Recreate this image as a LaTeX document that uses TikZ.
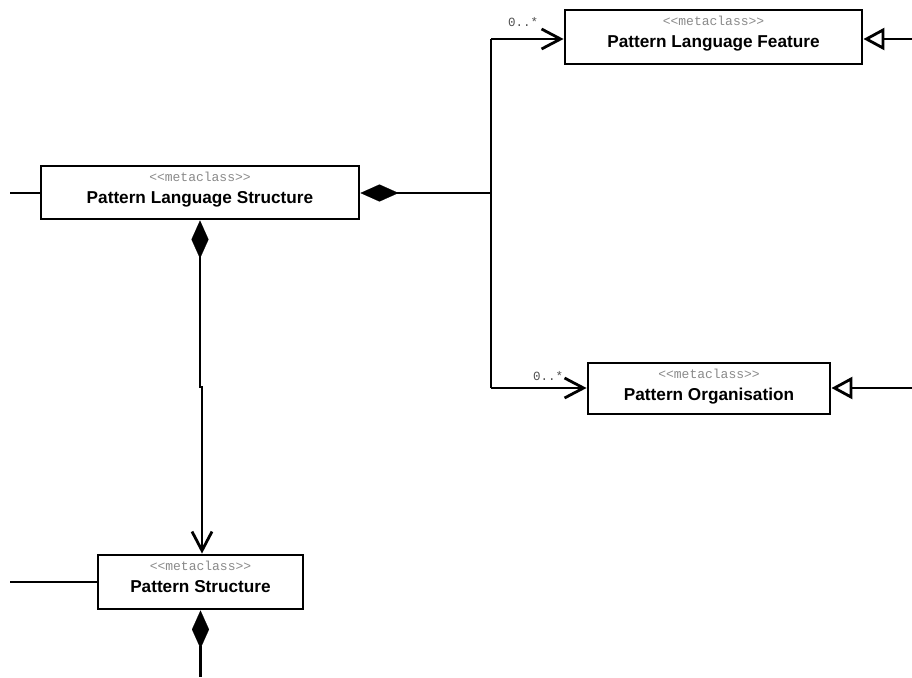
\documentclass[tikz,border=0pt]{standalone}
\usepackage{fontspec}
\setmainfont{Liberation Sans}
\newfontfamily\monofam{Liberation Mono}
\usetikzlibrary{arrows.meta}
\definecolor{stereo}{HTML}{8A8A8A}
\definecolor{mult}{HTML}{505050}
\tikzset{
  x=1pt, y=-1pt,
  umlclass/.style={draw=black, line width=2.9pt, fill=white, inner sep=0pt},
  conn/.style={line width=2.8pt, line join=miter},
  comp/.style={{Diamond[length=38pt,width=17pt,line width=0.1pt]}-},
  navarrow/.style={-{Straight Barb[length=19pt,width=20pt,line width=2.8pt]}},
  compnav/.style={{Diamond[length=38pt,width=17pt,line width=0.1pt]}-{Straight Barb[length=19pt,width=20pt,line width=2.8pt]}},
  genarrow/.style={-{Triangle[open,length=21pt,width=22pt,line width=2.8pt,fill=white]}},
  stereotype/.style={anchor=base, inner sep=0pt, font=\monofam\fontsize{13}{13}\selectfont, text=stereo},
  classname/.style={anchor=base, inner sep=0pt, font=\bfseries\fontsize{17.2}{17.2}\selectfont},
  multlabel/.style={anchor=base, inner sep=0pt, font=\monofam\fontsize{12.5}{12.5}\selectfont, text=mult}
}
\newcommand{\umlbox}[5]{%
  % #1 name, #2 left, #3 top, #4 right, #5 bottom
  \node[umlclass, minimum width={#4-#2}, minimum height={#5-#3}] (#1) at ({(#2+#4)/2},{(#3+#5)/2}) {};
}
\begin{document}
\begin{tikzpicture}
\useasboundingbox (0,0) rectangle (912,677);

% classes
\umlbox{plf}{565}{10}{862}{64}
\umlbox{pls}{41}{166}{359}{219}
\umlbox{po}{588}{363}{830}{414}
\umlbox{ps}{98}{555}{303}{609}

\foreach \n/\t in {plf/Pattern Language Feature, pls/Pattern Language Structure,
                   po/Pattern Organisation, ps/Pattern Structure}{
  \node[stereotype] (\n-st) at ([yshift=-17pt]\n.north) {<{}<metaclass>{}>};
  \node[classname] (\n-nm) at ([yshift=-39pt]\n.north) {\t};
}

% junction points
\coordinate (j)   at (491,193);
\coordinate (jt)  at (491,39);
\coordinate (jb)  at (491,388);
\coordinate (jog) at (202,387);
\coordinate (r1)  at (912,39);
\coordinate (r2)  at (912,388);
\coordinate (l1)  at (10,193);
\coordinate (l2)  at (10,582);
\coordinate (bot) at (201,677);

% composition: structure -> features / organisations
\draw[conn, comp] (pls.east |- j) -- (j);
\draw[conn] (jt) -- (jb);
\draw[conn, navarrow] (jt) -- (plf.west |- jt);
\draw[conn, navarrow] (jb) -- (po.west |- jb);
\node[multlabel] (m1) at (523,27) {0..*};
\node[multlabel] (m2) at (548,380) {0..*};

% composition: language structure -> pattern structure
\draw[conn, compnav] (pls.south) -- (pls.south |- jog) -- (jog) -- (jog |- ps.north);

% composition below pattern structure
\draw[conn, comp] (ps.south) -- (ps.south |- bot);

% generalisations from the right
\draw[conn, genarrow] (r1) -- (plf.east |- r1);
\draw[conn, genarrow] (r2) -- (po.east |- r2);

% associations from the left
\draw[conn] (l1) -- (pls.west |- l1);
\draw[conn] (l2) -- (ps.west |- l2);
\end{tikzpicture}
\end{document}
